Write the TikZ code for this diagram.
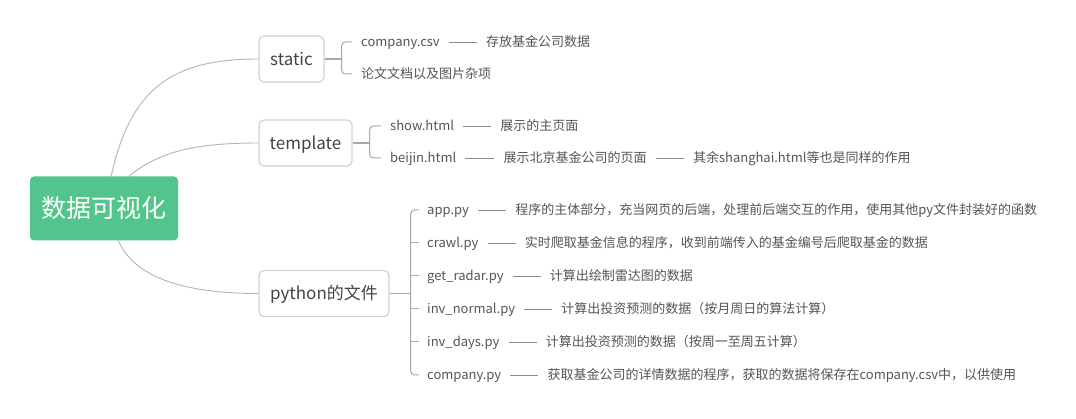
\documentclass[tikz,border=0pt]{standalone}
\usepackage{fontspec}
\setmainfont{Noto Sans CJK SC}
\usetikzlibrary{positioning,calc}
\definecolor{rootgreen}{HTML}{52C58C}
\definecolor{txt}{HTML}{555555}
\definecolor{boxline}{HTML}{D2D2D2}
\definecolor{curvecol}{HTML}{B4B4B4}
\definecolor{trunkcol}{HTML}{A8A8A8}
\definecolor{dashcol}{HTML}{8C8C8C}
\tikzset{
  rootbox/.style={fill=rootgreen,draw=none,rounded corners=4pt,minimum width=148pt,minimum height=64pt,text=white,font=\fontsize{25}{28}\selectfont,inner sep=0pt},
  topic/.style={draw=boxline,line width=1.2pt,rounded corners=5pt,minimum height=46pt,text=txt!80!black,font=\fontsize{17}{20}\selectfont,inner sep=0pt,fill=white,text height=14pt,text depth=1pt},
  leaf/.style={anchor=west,inner sep=0pt,text=txt,font=\fontsize{13}{15}\selectfont,text height=11pt,text depth=2pt},
  curveline/.style={draw=curvecol,line width=0.9pt},
  trunk/.style={draw=trunkcol,line width=1.8pt},
  brk/.style={draw=trunkcol,line width=1pt,rounded corners=4pt},
  dashln/.style={draw=dashcol,line width=0.8pt},
}
\begin{document}
\begin{tikzpicture}[x=1pt,y=-1pt]
\useasboundingbox[fill=white] (0,0) rectangle (1076,419);
% root and topics
\node[rootbox] (root) at (104,208.5) {数据可视化};
\node[topic,minimum width=65pt] (st) at (291.5,59) {static};
\node[topic,minimum width=93pt] (tp) at (305.5,143) {template};
\node[topic,minimum width=130pt] (py) at (324,293.5) {python的文件};
% curves
\draw[curveline] (111,177) .. controls (130,90) and (170,59) .. (st.west);
\draw[curveline] (128,177) .. controls (160,150) and (200,143) .. (tp.west);
\draw[curveline] (118,240) .. controls (135,280) and (190,293.5) .. (py.west);
% static children
\node[leaf] (s1) at (361,42) {company.csv};
\node[leaf,right=46pt of s1] (s1d) {存放基金公司数据};
\node[leaf] (s2) at (361,74) {论文文档以及图片杂项};
\draw[trunk] (st.east) -- ++(17,0) coordinate (sb);
\draw[brk] ($(s1.west)+(-9,0)$) -| (sb) |- ($(s2.west)+(-9,0)$);
\draw[dashln] ($(s1.east)+(9,0)$) -- ($(s1d.west)+(-9,0)$);
% template children
\node[leaf] (t1) at (390,126) {show.html};
\node[leaf,right=46pt of t1] (t1d) {展示的主页面};
\node[leaf] (t2) at (390,158) {beijin.html};
\node[leaf,right=47pt of t2] (t2d) {展示北京基金公司的页面};
\node[leaf,right=46pt of t2d] (t2e) {其余shanghai.html等也是同样的作用};
\draw[trunk] (tp.east) -- ++(17,0) coordinate (tb);
\draw[brk] ($(t1.west)+(-9,0)$) -| (tb) |- ($(t2.west)+(-9,0)$);
\draw[dashln] ($(t1.east)+(9,0)$) -- ($(t1d.west)+(-9,0)$);
\draw[dashln] ($(t2.east)+(9,0)$) -- ($(t2d.west)+(-9,0)$);
\draw[dashln] ($(t2d.east)+(9,0)$) -- ($(t2e.west)+(-9,0)$);
% python children
\node[leaf] (p1) at (427,210) {app.py};
\node[leaf,right=46pt of p1] (p1d) {程序的主体部分，充当网页的后端，处理前后端交互的作用，使用其他py文件封装好的函数};
\node[leaf] (p2) at (427,243) {crawl.py};
\node[leaf,right=46pt of p2] (p2d) {实时爬取基金信息的程序，收到前端传入的基金编号后爬取基金的数据};
\node[leaf] (p3) at (427,276) {get\_radar.py};
\node[leaf,right=46pt of p3] (p3d) {计算出绘制雷达图的数据};
\node[leaf] (p4) at (427,309) {inv\_normal.py};
\node[leaf,right=46pt of p4] (p4d) {计算出投资预测的数据（按月周日的算法计算）};
\node[leaf] (p5) at (427,342) {inv\_days.py};
\node[leaf,right=46pt of p5] (p5d) {计算出投资预测的数据（按周一至周五计算）};
\node[leaf] (p6) at (427,375) {company.py};
\node[leaf,right=46pt of p6] (p6d) {获取基金公司的详情数据的程序，获取的数据将保存在company.csv中，以供使用};
\draw[trunk] (py.east) -- ++(21,0) coordinate (pb);
\draw[brk] ($(p1.west)+(-8,0)$) -| (pb) |- ($(p6.west)+(-8,0)$);
\foreach \i in {2,3,4,5} {
  \draw[brk] (pb |- p\i.west) -- ($(p\i.west)+(-8,0)$);
}
\foreach \i in {1,...,6} {
  \draw[dashln] ($(p\i.east)+(9,0)$) -- ($(p\i d.west)+(-9,0)$);
}
\end{tikzpicture}
\end{document}
